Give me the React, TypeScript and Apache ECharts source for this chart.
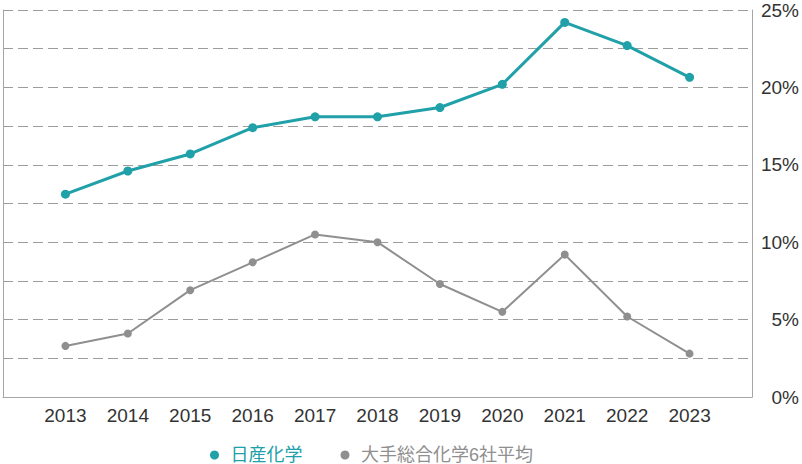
import React, { useEffect, useRef } from "react";
import * as echarts from "echarts";

const years = [2013, 2014, 2015, 2016, 2017, 2018, 2019, 2020, 2021, 2022, 2023];
const nissanValues = [13.1, 14.6, 15.7, 17.4, 18.1, 18.1, 18.7, 20.2, 24.2, 22.7, 20.65];
const averageValues = [3.3, 4.1, 6.9, 8.7, 10.5, 10.0, 7.3, 5.5, 9.2, 5.2, 2.8];
const seriesNames = ["日産化学", "大手総合化学6社平均"];
const yTickLabels = ["0%", "5%", "10%", "15%", "20%", "25%"];

const TEAL = "#20a0a8";
const GRAY = "#8f8f8f";
const AXIS = "#a6a6a6";
const FONT = "'Liberation Sans', 'Noto Sans CJK JP', sans-serif";

export default function App() {
  const ref = useRef<HTMLDivElement>(null);
  useEffect(() => {
    document.body.style.margin = "0";
    if (!ref.current) return;
    const chart = echarts.init(ref.current, undefined, { renderer: "svg" });
    chart.setOption({
      animation: false,
      textStyle: { fontFamily: FONT },
      grid: { left: 1, right: 48, top: 10, bottom: 67, containLabel: false },
      legend: {
        left: 210,
        top: 446,
        padding: 0,
        itemWidth: 22,
        itemHeight: 9,
        itemGap: 38,
        icon: "circle",
        textStyle: { fontSize: 18, fontFamily: FONT, lineHeight: 18 },
        data: [
          { name: seriesNames[0], textStyle: { color: TEAL } },
          { name: seriesNames[1], textStyle: { color: GRAY } },
        ],
      },
      xAxis: {
        type: "value",
        min: 2012,
        max: 2024,
        interval: 1,
        axisLine: { show: true, lineStyle: { color: AXIS, width: 1 } },
        axisTick: { show: false },
        splitLine: { show: false },
        axisLabel: {
          fontSize: 19,
          color: "#333",
          margin: 9,
          fontFamily: FONT,
          formatter: (v: number) => (years.indexOf(v) >= 0 ? String(v) : ""),
        },
      },
      yAxis: [
        {
          type: "value",
          position: "right",
          min: 0,
          max: 25,
          interval: 2.5,
          axisLine: { show: true, lineStyle: { color: AXIS, width: 1 } },
          axisTick: { show: false },
          splitLine: { show: true, lineStyle: { color: "#9c9c9c", type: [10, 5], width: 1 } },
          axisLabel: {
            fontSize: 19,
            color: "#333",
            align: "right",
            margin: 47,
            fontFamily: FONT,
            formatter: (v: number) => {
              const i = yTickLabels.indexOf(v + "%");
              return i >= 0 && v % 5 === 0 ? yTickLabels[i] : "";
            },
          },
        },
        {
          type: "value",
          position: "left",
          min: 0,
          max: 25,
          interval: 2.5,
          axisLine: { show: true, lineStyle: { color: AXIS, width: 1 } },
          axisTick: { show: false },
          axisLabel: { show: false },
          splitLine: { show: false },
        },
      ],
      series: [
        {
          name: seriesNames[0],
          type: "line",
          data: years.map((y, i) => [y, nissanValues[i]]),
          symbol: "circle",
          symbolSize: 9,
          itemStyle: { color: TEAL },
          lineStyle: { color: TEAL, width: 3 },
          z: 3,
        },
        {
          name: seriesNames[1],
          type: "line",
          data: years.map((y, i) => [y, averageValues[i]]),
          symbol: "circle",
          symbolSize: 8,
          itemStyle: { color: GRAY },
          lineStyle: { color: GRAY, width: 2 },
          z: 2,
        },
      ],
    });
    return () => chart.dispose();
  }, []);
  return <div ref={ref} style={{ width: 802, height: 464 }} />;
}
